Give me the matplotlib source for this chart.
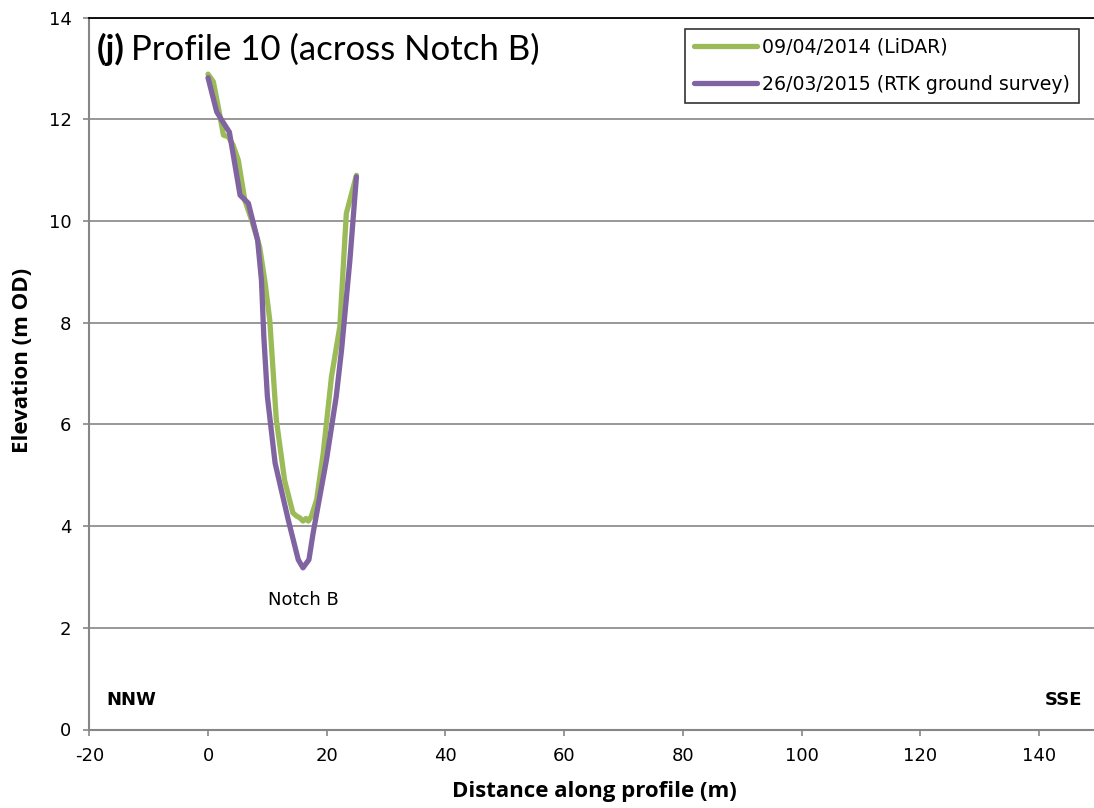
import matplotlib
matplotlib.use("Agg")
import matplotlib.pyplot as plt

plt.rcParams["axes.unicode_minus"] = False

# Data
lidar_x = [0, 0.9, 1.8, 2.6, 3.4, 4.2, 5.1, 6.2, 7.4, 8.7, 9.6, 10.4, 11.5, 12.9,
           14.3, 14.9, 15.5, 16.0, 16.5, 16.9, 17.4, 18.3, 19.4, 20.8, 22.2, 23.3, 25.0]
lidar_y = [12.89, 12.74, 12.2, 11.69, 11.66, 11.5, 11.2, 10.41, 10.0, 9.49, 8.8, 8.05,
           6.1, 4.9, 4.26, 4.2, 4.16, 4.1, 4.15, 4.1, 4.19, 4.52, 5.43, 6.94, 7.92, 10.15, 10.9]

rtk_x = [0, 1.46, 2.5, 3.6, 5.4, 6.8, 8.35, 9.0, 9.4, 10.0, 11.3, 13.5, 15.2, 16.0,
         17.0, 17.7, 19.95, 21.6, 22.5, 23.9, 25.0]
rtk_y = [12.82, 12.15, 11.95, 11.75, 10.51, 10.35, 9.63, 8.84, 7.73, 6.55, 5.24, 4.13,
         3.34, 3.18, 3.34, 3.86, 5.3, 6.55, 7.47, 9.23, 10.87]

series_labels = ["09/04/2014 (LiDAR)", "26/03/2015 (RTK ground survey)"]
x_ticks = [-20, 0, 20, 40, 60, 80, 100, 120, 140]
y_ticks = [0, 2, 4, 6, 8, 10, 12, 14]

GREEN = "#9BBB59"
PURPLE = "#8064A2"
GRID = "#868686"
TICKFONT = "DejaVu Sans"

W, H = 1094, 808
fig = plt.figure(figsize=(W / 100, H / 100), dpi=100)

x_left_px = 89.3
px_per_m = 5.936
x_right_px = x_left_px + 170 * px_per_m
y_bottom_px = 729.5
y_top_px = 17.7
ax = fig.add_axes([x_left_px / W, 1 - y_bottom_px / H,
                   (x_right_px - x_left_px) / W, (y_bottom_px - y_top_px) / H])

ax.set_xlim(-20, 150)
ax.set_ylim(0, 14)

ax.plot(lidar_x, lidar_y, color=GREEN, lw=3.8, solid_joinstyle="round",
        solid_capstyle="round", label=series_labels[0], zorder=3)
ax.plot(rtk_x, rtk_y, color=PURPLE, lw=3.8, solid_joinstyle="round",
        solid_capstyle="round", label=series_labels[1], zorder=4)

ax.set_xticks(x_ticks)
ax.set_yticks(y_ticks)
ax.yaxis.grid(True, color=GRID, lw=1.2)
ax.set_axisbelow(True)

for s in ["left", "bottom"]:
    ax.spines[s].set_color(GRID)
    ax.spines[s].set_linewidth(1.5)
ax.spines["right"].set_visible(False)
ax.spines["top"].set_color("black")
ax.spines["top"].set_linewidth(1.3)

ax.tick_params(axis="both", direction="out", length=4.3, width=1.2, color=GRID,
               labelsize=13, labelcolor="black")
ax.tick_params(axis="x", pad=8)
ax.tick_params(axis="y", pad=8.5)
for lab in ax.get_xticklabels() + ax.get_yticklabels():
    lab.set_fontfamily(TICKFONT)

fig.text(594 / W, 1 - 792 / H, "Distance along profile (m)", fontsize=16,
         fontweight="bold", family="Open Sans", ha="center", va="center")
fig.text(23 / W, 1 - 360.5 / H, "Elevation (m OD)", fontsize=16, rotation=90,
         fontweight="bold", family="Open Sans", ha="center", va="center")

t1 = ax.text(-18.7, 13.37, "(j)", fontsize=25, fontweight="bold", family="Lato",
             va="center", ha="left")
fig.canvas.draw()
bb = t1.get_window_extent()
inv = ax.transData.inverted()
x_end = inv.transform((bb.x1, bb.y0))[0]
ax.text(x_end + 1.1, 13.37, "Profile 10 (across Notch B)", fontsize=25, family="Lato",
        va="center", ha="left")

ax.text(16.0, 2.55, "Notch B", fontsize=13, family=TICKFONT,
        ha="center", va="center")
ax.text(-17.2, 0.59, "NNW", fontsize=13, fontweight="bold", family=TICKFONT,
        ha="left", va="center")
ax.text(147.2, 0.59, "SSE", fontsize=13, fontweight="bold", family=TICKFONT,
        ha="right", va="center")

leg = fig.legend(loc="upper left", bbox_to_anchor=(685 / W, 1 - 28.5 / H),
                 prop={"family": TICKFONT, "size": 13.6},
                 frameon=True, fancybox=False, edgecolor="black",
                 handlelength=3.3, handletextpad=0.25, borderpad=0.5,
                 labelspacing=0.95, borderaxespad=0)
leg.get_frame().set_linewidth(1.2)

fig.savefig("out.png", dpi=100)
